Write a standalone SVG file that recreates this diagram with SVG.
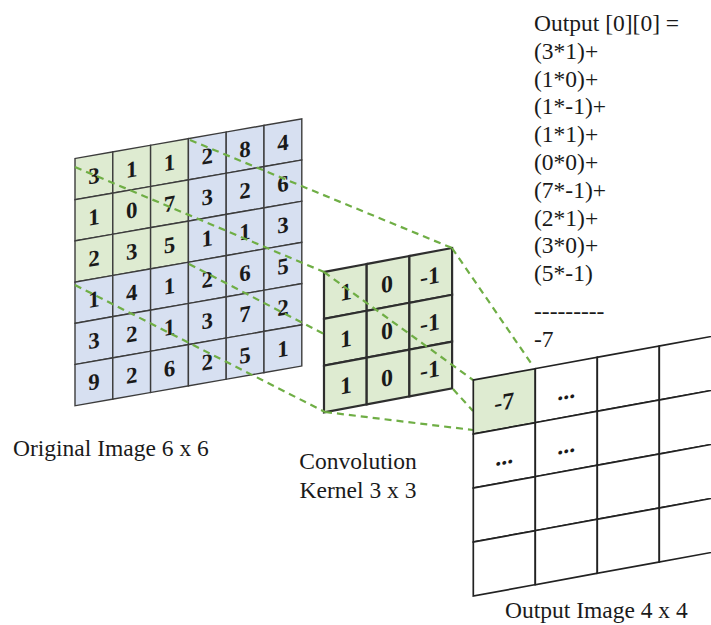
<svg xmlns="http://www.w3.org/2000/svg" width="711" height="625" viewBox="0 0 711 625">
  <style>
    .num { font-family: "Liberation Serif", "Times New Roman", serif; font-weight: bold; text-anchor: middle; fill: #1a1a1a; }
    .lbl { font-family: "Liberation Serif", "Times New Roman", serif; font-size: 23.5px; fill: #1a1a1a; }
    .g { fill: #deebd1; }
    .b { fill: #d7e0f1; }
    .w { fill: #ffffff; }
    .cellIn { stroke: #3c3c3c; stroke-width: 1.4; }
    .cellK { stroke: #2e2e2e; stroke-width: 2.2; }
    .cellOut { stroke: #222; stroke-width: 1.7; }
    .dash { stroke: #6fae45; stroke-width: 2.2; stroke-dasharray: 7 5; fill: none; }
  </style>

  <!-- 6x6 input, drawn flat then skewed into perspective -->
  <g id="input-image" transform="matrix(1,-0.175,0,1,75,158.5)">
    <g class="cellIn">
      <rect class="g" x="0" y="0" width="37.8" height="41.2"/>
      <rect class="g" x="37.8" y="0" width="37.8" height="41.2"/>
      <rect class="g" x="75.6" y="0" width="37.8" height="41.2"/>
      <rect class="b" x="113.4" y="0" width="37.8" height="41.2"/>
      <rect class="b" x="151.2" y="0" width="37.8" height="41.2"/>
      <rect class="b" x="189" y="0" width="37.8" height="41.2"/>

      <rect class="g" x="0" y="41.2" width="37.8" height="41.2"/>
      <rect class="g" x="37.8" y="41.2" width="37.8" height="41.2"/>
      <rect class="g" x="75.6" y="41.2" width="37.8" height="41.2"/>
      <rect class="b" x="113.4" y="41.2" width="37.8" height="41.2"/>
      <rect class="b" x="151.2" y="41.2" width="37.8" height="41.2"/>
      <rect class="b" x="189" y="41.2" width="37.8" height="41.2"/>

      <rect class="g" x="0" y="82.4" width="37.8" height="41.2"/>
      <rect class="g" x="37.8" y="82.4" width="37.8" height="41.2"/>
      <rect class="g" x="75.6" y="82.4" width="37.8" height="41.2"/>
      <rect class="b" x="113.4" y="82.4" width="37.8" height="41.2"/>
      <rect class="b" x="151.2" y="82.4" width="37.8" height="41.2"/>
      <rect class="b" x="189" y="82.4" width="37.8" height="41.2"/>

      <rect class="b" x="0" y="123.6" width="37.8" height="41.2"/>
      <rect class="b" x="37.8" y="123.6" width="37.8" height="41.2"/>
      <rect class="b" x="75.6" y="123.6" width="37.8" height="41.2"/>
      <rect class="b" x="113.4" y="123.6" width="37.8" height="41.2"/>
      <rect class="b" x="151.2" y="123.6" width="37.8" height="41.2"/>
      <rect class="b" x="189" y="123.6" width="37.8" height="41.2"/>

      <rect class="b" x="0" y="164.8" width="37.8" height="41.2"/>
      <rect class="b" x="37.8" y="164.8" width="37.8" height="41.2"/>
      <rect class="b" x="75.6" y="164.8" width="37.8" height="41.2"/>
      <rect class="b" x="113.4" y="164.8" width="37.8" height="41.2"/>
      <rect class="b" x="151.2" y="164.8" width="37.8" height="41.2"/>
      <rect class="b" x="189" y="164.8" width="37.8" height="41.2"/>

      <rect class="b" x="0" y="206" width="37.8" height="41.2"/>
      <rect class="b" x="37.8" y="206" width="37.8" height="41.2"/>
      <rect class="b" x="75.6" y="206" width="37.8" height="41.2"/>
      <rect class="b" x="113.4" y="206" width="37.8" height="41.2"/>
      <rect class="b" x="151.2" y="206" width="37.8" height="41.2"/>
      <rect class="b" x="189" y="206" width="37.8" height="41.2"/>
    </g>
    <g class="num" font-size="23">
      <text x="18.9" y="28.3">3</text><text x="56.7" y="28.3">1</text><text x="94.5" y="28.3">1</text>
      <text x="132.3" y="28.3">2</text><text x="170.1" y="28.3">8</text><text x="207.9" y="28.3">4</text>

      <text x="18.9" y="69.5">1</text><text x="56.7" y="69.5">0</text><text x="94.5" y="69.5">7</text>
      <text x="132.3" y="69.5">3</text><text x="170.1" y="69.5">2</text><text x="207.9" y="69.5">6</text>

      <text x="18.9" y="110.7">2</text><text x="56.7" y="110.7">3</text><text x="94.5" y="110.7">5</text>
      <text x="132.3" y="110.7">1</text><text x="170.1" y="110.7">1</text><text x="207.9" y="110.7">3</text>

      <text x="18.9" y="151.9">1</text><text x="56.7" y="151.9">4</text><text x="94.5" y="151.9">1</text>
      <text x="132.3" y="151.9">2</text><text x="170.1" y="151.9">6</text><text x="207.9" y="151.9">5</text>

      <text x="18.9" y="193.1">3</text><text x="56.7" y="193.1">2</text><text x="94.5" y="193.1">1</text>
      <text x="132.3" y="193.1">3</text><text x="170.1" y="193.1">7</text><text x="207.9" y="193.1">2</text>

      <text x="18.9" y="234.3">9</text><text x="56.7" y="234.3">2</text><text x="94.5" y="234.3">6</text>
      <text x="132.3" y="234.3">2</text><text x="170.1" y="234.3">5</text><text x="207.9" y="234.3">1</text>
    </g>
  </g>

  <!-- 3x3 kernel -->
  <g id="kernel" transform="matrix(1,-0.1875,0,1,324,272)">
    <g class="cellK g">
      <rect x="0" y="0" width="42.7" height="46.8"/>
      <rect x="42.7" y="0" width="42.7" height="46.8"/>
      <rect x="85.4" y="0" width="42.7" height="46.8"/>
      <rect x="0" y="46.8" width="42.7" height="46.8"/>
      <rect x="42.7" y="46.8" width="42.7" height="46.8"/>
      <rect x="85.4" y="46.8" width="42.7" height="46.8"/>
      <rect x="0" y="93.6" width="42.7" height="46.8"/>
      <rect x="42.7" y="93.6" width="42.7" height="46.8"/>
      <rect x="85.4" y="93.6" width="42.7" height="46.8"/>
    </g>
    <g class="num" font-size="24">
      <text x="22" y="32">1</text><text x="63" y="32">0</text><text x="106" y="32">-1</text>
      <text x="22" y="78.8">1</text><text x="63" y="78.8">0</text><text x="106" y="78.8">-1</text>
      <text x="22" y="125.6">1</text><text x="63" y="125.6">0</text><text x="106" y="125.6">-1</text>
    </g>
  </g>

  <!-- dashed projection lines: input window to kernel, kernel to output cell -->
  <g id="connectors" class="dash">
    <line x1="75" y1="167" x2="324" y2="272"/>
    <line x1="190" y1="140" x2="452" y2="248"/>
    <line x1="75" y1="285" x2="325" y2="412"/>
    <line x1="189" y1="264" x2="324" y2="334"/>
    <line x1="324" y1="272" x2="473" y2="380"/>
    <line x1="452" y1="248" x2="533" y2="366"/>
    <line x1="453" y1="389" x2="473" y2="411"/>
    <line x1="325" y1="412" x2="473" y2="430"/>
  </g>

  <!-- 4x4 output; the last column runs past the right edge -->
  <g id="output-image" transform="matrix(1,-0.183,0,1,473.3,380)">
    <g class="cellOut">
      <rect class="g" x="0" y="0" width="62" height="54"/>
      <rect class="w" x="62" y="0" width="62" height="54"/>
      <rect class="w" x="124" y="0" width="62" height="54"/>
      <rect class="w" x="186" y="0" width="62" height="54"/>
      <rect class="w" x="0" y="54" width="62" height="54"/>
      <rect class="w" x="62" y="54" width="62" height="54"/>
      <rect class="w" x="124" y="54" width="62" height="54"/>
      <rect class="w" x="186" y="54" width="62" height="54"/>
      <rect class="w" x="0" y="108" width="62" height="54"/>
      <rect class="w" x="62" y="108" width="62" height="54"/>
      <rect class="w" x="124" y="108" width="62" height="54"/>
      <rect class="w" x="186" y="108" width="62" height="54"/>
      <rect class="w" x="0" y="162" width="62" height="54"/>
      <rect class="w" x="62" y="162" width="62" height="54"/>
      <rect class="w" x="124" y="162" width="62" height="54"/>
      <rect class="w" x="186" y="162" width="62" height="54"/>
    </g>
    <g class="num" font-size="24">
      <text x="31" y="35.5">-7</text>
      <text x="93" y="36">...</text>
      <text x="31" y="90">...</text>
      <text x="93" y="90">...</text>
    </g>
  </g>

  <!-- worked sum for the first output cell -->
  <g id="calculation" class="lbl">
    <text x="534" y="31">Output [0][0] =</text>
    <text x="534" y="58.8">(3*1)+</text>
    <text x="534" y="86.6">(1*0)+</text>
    <text x="534" y="114.4">(1*-1)+</text>
    <text x="534" y="142.2">(1*1)+</text>
    <text x="534" y="170">(0*0)+</text>
    <text x="534" y="197.8">(7*-1)+</text>
    <text x="534" y="225.6">(2*1)+</text>
    <text x="534" y="253.4">(3*0)+</text>
    <text x="534" y="281.2">(5*-1)</text>
    <text x="534" y="319">---------</text>
    <text x="534" y="347">-7</text>
  </g>

  <g id="captions" class="lbl">
    <text x="13" y="456">Original Image 6 x 6</text>
    <text x="358" y="469" text-anchor="middle">Convolution</text>
    <text x="358" y="498" text-anchor="middle">Kernel 3 x 3</text>
    <text x="505" y="618">Output Image 4 x 4</text>
  </g>
</svg>
